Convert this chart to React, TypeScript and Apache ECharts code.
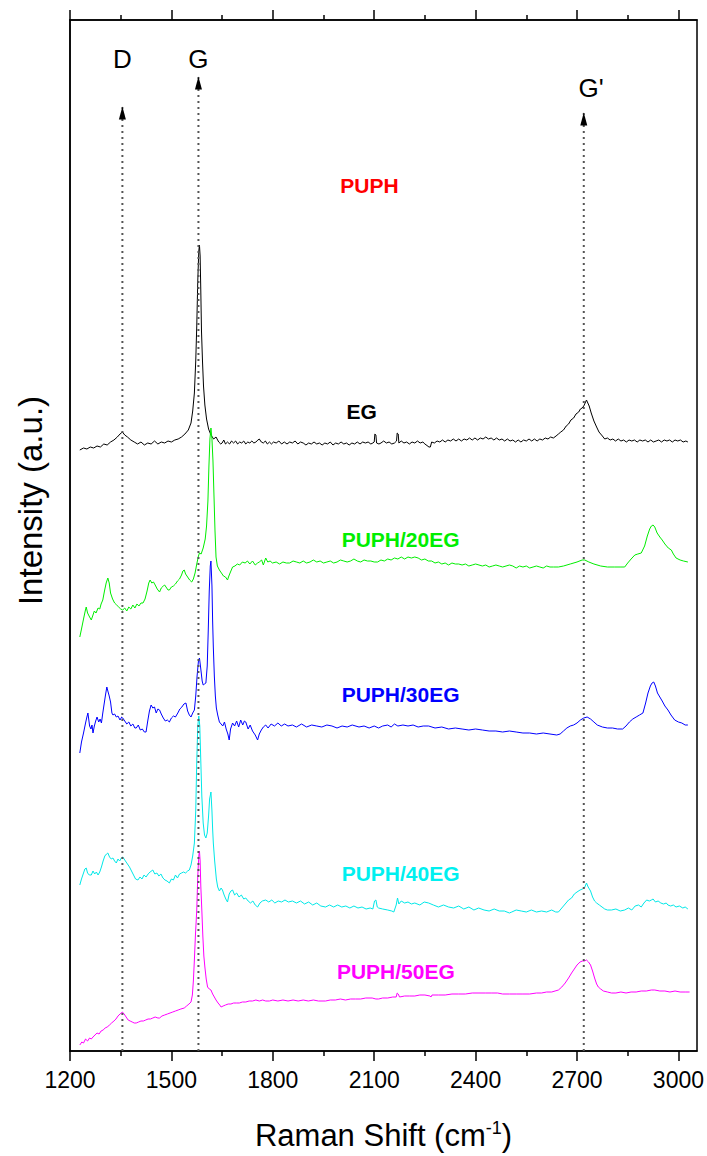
import React, { useEffect, useRef } from "react";
import * as echarts from "echarts";

// ---- Data (x: Raman shift cm^-1, y: stacked intensity, arbitrary units) ----
const majorTicks = [1200, 1500, 1800, 2100, 2400, 2700, 3000];
const minorTicks = [1350, 1650, 1950, 2250, 2550, 2850];

const egData: number[][] = [[1229,601],[1240,603],[1250,602],[1260,604],[1270,603],[1280,605],[1290,604],[1300,607],[1310,606],[1320,609],[1330,611],[1340,614],[1348,617],[1355,619],[1362,616],[1370,614],[1380,611],[1390,609],[1400,607],[1410,609],[1420,606],[1430,608],[1440,607],[1450,610],[1460,607],[1470,609],[1480,608],[1490,610],[1500,609],[1510,611],[1520,612],[1530,614],[1540,617],[1550,621],[1558,628],[1563,640],[1568,658],[1572,690],[1575,725],[1578,770],[1581,800],[1583,806],[1585,795],[1587,760],[1589,720],[1592,690],[1595,665],[1599,646],[1604,632],[1610,622],[1617,616],[1625,612],[1632,614],[1640,609],[1646,607],[1650,608],[1655,611],[1660,607],[1666,609],[1672,607],[1678,610],[1684,608],[1690,610],[1696,607],[1702,609],[1708,608],[1714,610],[1720,607],[1726,609],[1732,608],[1738,610],[1744,608],[1750,609],[1756,611],[1760,612],[1766,609],[1772,608],[1778,610],[1784,607],[1790,609],[1796,607],[1802,609],[1810,608],[1818,610],[1826,607],[1834,609],[1842,607],[1850,609],[1858,608],[1866,610],[1874,607],[1882,609],[1890,608],[1898,606],[1906,608],[1914,607],[1922,609],[1930,607],[1938,608],[1946,606],[1954,608],[1962,607],[1970,609],[1978,606],[1986,608],[1994,607],[2002,609],[2010,607],[2018,608],[2026,606],[2034,608],[2042,607],[2050,609],[2058,607],[2066,609],[2074,608],[2082,609],[2090,607],[2096,608],[2100,609],[2102,617],[2105,616],[2107,608],[2114,607],[2120,608],[2128,610],[2136,608],[2144,609],[2152,607],[2160,608],[2166,610],[2168,618],[2171,617],[2173,608],[2180,610],[2188,608],[2196,609],[2204,607],[2212,609],[2220,608],[2228,610],[2236,608],[2244,609],[2250,607],[2262,604],[2266,604],[2270,609],[2278,608],[2286,610],[2294,609],[2302,611],[2310,609],[2318,611],[2326,610],[2334,612],[2342,610],[2350,612],[2358,610],[2366,612],[2374,611],[2382,613],[2390,611],[2398,613],[2406,611],[2414,613],[2422,612],[2430,614],[2438,612],[2446,613],[2454,611],[2462,613],[2470,611],[2478,612],[2486,610],[2494,612],[2502,610],[2510,611],[2518,609],[2526,611],[2534,609],[2542,611],[2550,610],[2558,612],[2566,610],[2574,612],[2582,610],[2590,612],[2598,611],[2606,613],[2614,612],[2622,614],[2630,613],[2638,615],[2645,617],[2652,619],[2660,621],[2668,625],[2675,627],[2682,631],[2690,633],[2697,637],[2705,639],[2710,642],[2715,643],[2720,645],[2724,648],[2728,651],[2732,648],[2736,645],[2742,638],[2750,630],[2758,624],[2765,619],[2770,617],[2775,615],[2782,612],[2790,613],[2798,611],[2806,612],[2814,610],[2822,612],[2830,610],[2838,611],[2846,609],[2854,611],[2862,610],[2870,611],[2878,609],[2886,611],[2894,610],[2902,611],[2910,609],[2918,611],[2926,609],[2934,610],[2942,611],[2950,609],[2958,611],[2966,610],[2974,611],[2982,609],[2990,611],[2998,610],[3006,611],[3014,609],[3022,610],[3028,609]];

const eg20Data: number[][] = [[1229,414],[1234,422],[1240,432],[1245,440],[1248,444],[1252,438],[1258,434],[1263,431],[1268,436],[1272,440],[1277,438],[1283,443],[1288,442],[1292,447],[1297,451],[1302,460],[1307,468],[1312,473],[1316,468],[1320,458],[1326,452],[1332,448],[1338,446],[1344,444],[1350,442],[1356,441],[1362,443],[1368,440],[1374,444],[1380,442],[1386,446],[1392,443],[1398,447],[1404,445],[1410,448],[1416,448],[1422,452],[1428,460],[1433,468],[1437,471],[1442,468],[1447,469],[1452,466],[1458,462],[1465,459],[1470,463],[1476,465],[1480,466],[1486,463],[1490,461],[1494,461],[1500,464],[1506,465],[1512,467],[1518,470],[1524,472],[1530,476],[1534,480],[1538,481],[1542,477],[1548,474],[1554,471],[1560,469],[1565,472],[1570,478],[1575,487],[1580,495],[1583,498],[1588,497],[1594,503],[1600,512],[1604,525],[1608,550],[1611,585],[1614,612],[1617,623],[1620,612],[1623,590],[1626,555],[1629,520],[1632,494],[1636,485],[1642,481],[1648,478],[1654,475],[1660,474],[1666,471],[1670,475],[1676,480],[1681,484],[1688,485],[1695,487],[1702,486],[1710,489],[1718,488],[1725,490],[1732,487],[1740,490],[1748,486],[1755,488],[1760,489],[1767,491],[1772,486],[1779,493],[1785,489],[1792,490],[1799,488],[1810,489],[1820,487],[1830,489],[1840,488],[1850,488],[1860,490],[1870,489],[1880,488],[1890,490],[1900,488],[1910,489],[1920,491],[1930,489],[1940,490],[1950,488],[1960,489],[1970,490],[1980,488],[1990,489],[2000,491],[2010,490],[2020,489],[2030,490],[2040,492],[2050,490],[2060,489],[2070,491],[2080,490],[2090,490],[2100,489],[2110,489],[2120,491],[2130,490],[2140,492],[2150,491],[2160,493],[2170,492],[2180,494],[2190,492],[2200,494],[2210,493],[2220,494],[2230,493],[2240,491],[2250,492],[2260,490],[2270,490],[2280,488],[2290,489],[2300,487],[2310,488],[2320,486],[2330,488],[2340,487],[2350,487],[2360,486],[2370,487],[2380,485],[2390,486],[2400,487],[2410,486],[2420,485],[2430,486],[2440,484],[2450,485],[2460,486],[2470,485],[2480,484],[2490,485],[2500,486],[2510,485],[2520,483],[2530,485],[2540,484],[2550,485],[2560,483],[2570,484],[2580,485],[2590,484],[2600,483],[2610,485],[2620,484],[2630,484],[2645,484],[2660,485],[2680,487],[2700,489],[2715,491],[2723,491],[2735,489],[2750,487],[2770,485],[2790,484],[2810,484],[2830,484],[2841,484],[2850,488],[2860,492],[2871,496],[2880,497],[2890,498],[2900,505],[2908,515],[2915,522],[2920,525],[2925,526],[2930,524],[2937,518],[2945,514],[2952,511],[2960,507],[2970,503],[2979,501],[2985,497],[2993,493],[3005,491],[3015,490],[3028,489]];

const eg30Data: number[][] = [[1229,298],[1234,309],[1240,318],[1246,328],[1250,334],[1253,338],[1258,325],[1262,322],[1265,326],[1268,318],[1272,325],[1276,330],[1280,334],[1285,329],[1289,332],[1293,328],[1297,338],[1301,347],[1305,356],[1309,364],[1312,360],[1316,355],[1320,349],[1324,338],[1327,336],[1332,337],[1337,334],[1342,335],[1348,331],[1353,334],[1356,333],[1362,330],[1368,327],[1374,329],[1380,325],[1386,327],[1392,323],[1396,323],[1402,326],[1408,321],[1414,322],[1420,319],[1425,319],[1430,330],[1435,340],[1440,346],[1445,343],[1450,344],[1455,338],[1460,342],[1465,341],[1470,337],[1476,333],[1482,330],[1488,331],[1494,329],[1500,333],[1506,335],[1512,334],[1519,338],[1525,342],[1531,344],[1537,347],[1543,348],[1548,340],[1553,336],[1558,334],[1563,338],[1568,341],[1572,355],[1576,375],[1580,390],[1583,393],[1587,382],[1591,370],[1594,366],[1598,367],[1602,368],[1606,385],[1609,420],[1612,460],[1615,485],[1617,490],[1620,465],[1622,430],[1624,404],[1627,375],[1630,355],[1633,343],[1637,336],[1642,329],[1647,327],[1652,325],[1657,329],[1662,322],[1667,317],[1671,311],[1675,322],[1681,328],[1687,325],[1693,330],[1699,324],[1705,331],[1711,326],[1716,330],[1720,329],[1727,322],[1733,326],[1740,320],[1748,316],[1755,311],[1760,317],[1766,321],[1772,324],[1779,326],[1786,323],[1795,327],[1805,325],[1815,328],[1825,325],[1835,327],[1845,325],[1858,326],[1870,324],[1885,327],[1900,324],[1915,326],[1930,325],[1945,324],[1960,326],[1975,325],[1990,323],[2005,325],[2020,324],[2035,326],[2055,324],[2070,325],[2085,323],[2100,325],[2113,323],[2125,325],[2140,326],[2150,324],[2160,327],[2170,325],[2185,326],[2200,325],[2215,326],[2230,324],[2245,325],[2261,325],[2280,323],[2300,324],[2320,322],[2340,323],[2360,322],[2380,321],[2400,322],[2420,321],[2440,320],[2460,320],[2480,319],[2500,320],[2520,319],[2540,318],[2560,318],[2580,317],[2600,318],[2620,317],[2640,316],[2650,317],[2660,320],[2670,323],[2680,325],[2690,326],[2700,328],[2710,331],[2720,333],[2730,334],[2740,332],[2750,329],[2760,326],[2775,324],[2790,323],[2805,323],[2820,322],[2835,322],[2845,325],[2855,329],[2865,332],[2875,334],[2885,336],[2895,338],[2903,348],[2910,358],[2917,365],[2922,368],[2927,369],[2932,365],[2938,358],[2945,354],[2952,350],[2960,345],[2969,341],[2978,336],[2989,331],[3000,329],[3010,328],[3020,326],[3028,326]];

const eg40Data: number[][] = [[1229,166],[1234,172],[1240,178],[1244,182],[1248,183],[1252,178],[1257,176],[1263,176],[1268,180],[1273,177],[1278,179],[1283,176],[1288,179],[1293,184],[1298,190],[1303,195],[1308,197],[1312,198],[1317,194],[1322,192],[1327,193],[1332,190],[1337,188],[1342,192],[1347,190],[1352,193],[1356,194],[1362,191],[1368,188],[1376,184],[1382,180],[1388,176],[1394,172],[1401,171],[1407,174],[1413,172],[1419,176],[1425,174],[1431,177],[1437,179],[1445,181],[1451,177],[1457,178],[1463,175],[1469,177],[1475,173],[1481,171],[1487,170],[1494,168],[1500,172],[1506,171],[1512,176],[1518,173],[1524,177],[1530,178],[1536,179],[1542,178],[1548,180],[1553,181],[1558,186],[1563,195],[1568,208],[1572,240],[1575,290],[1578,325],[1581,335],[1584,325],[1587,290],[1590,255],[1594,228],[1598,216],[1602,213],[1606,218],[1610,235],[1613,252],[1617,259],[1620,240],[1622,222],[1624,208],[1628,190],[1633,172],[1637,164],[1642,160],[1647,163],[1651,161],[1656,156],[1661,152],[1666,149],[1671,157],[1676,160],[1681,161],[1687,156],[1693,158],[1700,154],[1707,156],[1714,152],[1720,153],[1727,150],[1734,148],[1741,150],[1748,146],[1755,144],[1762,148],[1769,150],[1779,151],[1788,149],[1797,151],[1806,148],[1816,150],[1826,149],[1836,151],[1846,149],[1858,150],[1870,148],[1882,150],[1894,147],[1906,149],[1918,146],[1930,148],[1942,145],[1956,144],[1968,146],[1980,144],[1992,146],[2004,144],[2016,145],[2028,143],[2040,145],[2052,143],[2064,144],[2076,142],[2088,143],[2096,142],[2101,150],[2105,151],[2109,144],[2113,143],[2125,142],[2140,141],[2152,140],[2158,139],[2165,146],[2169,153],[2173,147],[2180,150],[2190,148],[2200,149],[2210,147],[2220,148],[2235,146],[2248,149],[2261,148],[2275,146],[2290,144],[2305,146],[2320,144],[2335,143],[2350,145],[2365,142],[2380,144],[2395,141],[2409,143],[2425,141],[2440,140],[2455,142],[2470,140],[2485,140],[2500,138],[2507,139],[2520,141],[2535,140],[2550,139],[2565,141],[2580,139],[2595,140],[2610,139],[2625,141],[2637,139],[2645,139],[2655,143],[2665,147],[2675,151],[2684,153],[2692,157],[2700,159],[2709,161],[2716,162],[2722,163],[2728,168],[2733,164],[2740,160],[2746,154],[2752,150],[2758,148],[2766,146],[2774,144],[2782,142],[2790,141],[2802,141],[2815,142],[2828,140],[2841,141],[2852,143],[2862,141],[2872,145],[2882,146],[2890,144],[2898,148],[2906,151],[2914,150],[2920,151],[2925,152],[2932,149],[2940,150],[2948,148],[2956,147],[2964,148],[2969,146],[2977,145],[2985,146],[2993,144],[3003,145],[3013,143],[3020,144],[3028,142]];

const eg50Data: number[][] = [[1229,6],[1235,9],[1240,8],[1246,12],[1252,10],[1258,13],[1263,12],[1268,14],[1274,16],[1280,18],[1286,17],[1292,20],[1298,21],[1304,23],[1310,24],[1317,26],[1323,28],[1330,30],[1336,32],[1342,35],[1348,37],[1355,39],[1360,37],[1366,34],[1372,31],[1378,30],[1384,29],[1390,28],[1396,28],[1403,29],[1410,30],[1417,30],[1424,31],[1431,32],[1438,32],[1445,33],[1452,34],[1460,33],[1465,33],[1472,35],[1480,36],[1488,37],[1496,38],[1504,39],[1512,40],[1520,41],[1528,42],[1538,43],[1545,45],[1552,47],[1558,49],[1562,56],[1565,70],[1568,91],[1571,115],[1575,141],[1578,175],[1581,195],[1583,200],[1585,190],[1587,165],[1590,141],[1593,115],[1596,95],[1599,84],[1603,72],[1607,64],[1612,62],[1617,61],[1622,57],[1627,54],[1632,51],[1638,48],[1643,46],[1647,44],[1653,45],[1660,46],[1668,47],[1676,47],[1684,48],[1692,48],[1701,48],[1710,49],[1720,49],[1730,50],[1740,50],[1750,51],[1760,50],[1770,51],[1779,50],[1790,50],[1800,51],[1815,50],[1830,51],[1845,50],[1860,51],[1875,50],[1890,51],[1905,50],[1920,51],[1935,50],[1956,50],[1970,51],[1985,51],[2000,52],[2015,51],[2030,52],[2045,52],[2060,52],[2075,53],[2094,53],[2105,52],[2113,52],[2125,53],[2140,53],[2155,54],[2165,54],[2168,58],[2171,57],[2175,54],[2190,55],[2205,55],[2220,55],[2235,56],[2250,56],[2265,55],[2268,54],[2271,56],[2290,56],[2310,56],[2330,57],[2350,57],[2370,57],[2390,58],[2410,58],[2430,58],[2448,58],[2465,58],[2480,57],[2500,57],[2520,57],[2540,57],[2560,57],[2580,58],[2595,58],[2610,59],[2625,59],[2635,60],[2645,61],[2655,64],[2665,68],[2675,73],[2684,78],[2692,82],[2700,86],[2709,89],[2716,90],[2722,90],[2728,91],[2734,89],[2740,86],[2746,80],[2752,73],[2758,67],[2763,64],[2770,62],[2778,60],[2790,59],[2802,58],[2815,58],[2830,59],[2845,58],[2860,59],[2875,59],[2890,60],[2905,60],[2920,61],[2930,61],[2945,60],[2960,60],[2975,59],[2990,60],[3005,59],[3020,59],[3033,59]];

const seriesNames = ["EG", "PUPH/20EG", "PUPH/30EG", "PUPH/40EG", "PUPH/50EG"];
const seriesColors = ["#000000", "#00ee00", "#0000ff", "#00e8e8", "#ff00ff"];
const seriesData = [egData, eg20Data, eg30Data, eg40Data, eg50Data];

// Peak markers (D, G, G')
const peakNames = ["D", "G", "G'"];
const peakX = [1355, 1580, 2720];
const peakArrowTop = [944, 974, 938];
const peakLabelX = [1355, 1580, 2742];
const peakLabelY = [992, 992, 963];

// Sample labels
const sampleLabels = ["PUPH", "EG", "PUPH/20EG", "PUPH/30EG", "PUPH/40EG", "PUPH/50EG"];
const sampleLabelX = [2086, 2063, 2178, 2178, 2178, 2164];
const sampleLabelY = [866, 640, 512, 357, 178, 80];
const sampleLabelColors = ["#ff0000", "#000000", "#00ee00", "#0000ff", "#00f0f0", "#ff00ff"];

const X_MIN = 1200;
const X_MAX = 3055;
const Y_MAX = 1031;

const FONT = "'Liberation Sans', Arial, sans-serif";

export default function App() {
  const ref = useRef<HTMLDivElement>(null);

  useEffect(() => {
    if (!ref.current) return;
    const chart = echarts.init(ref.current, undefined, { renderer: "svg" });

    const baseX = {
      type: "value",
      min: X_MIN,
      max: X_MAX,
      splitLine: { show: false },
    };

    const series: any[] = [];
    seriesData.forEach((d, i) => {
      series.push({
        type: "line",
        name: seriesNames[i],
        data: d,
        showSymbol: false,
        symbol: "none",
        lineStyle: { color: seriesColors[i], width: 1 },
        z: 2,
      });
    });

    peakX.forEach((x, i) => {
      series.push({
        type: "line",
        data: [[x, 0], [x, peakArrowTop[i]]],
        showSymbol: false,
        symbol: "none",
        lineStyle: { color: "#555555", width: 2, type: [2, 4] },
        z: 3,
      });
    });

    series.push({
      type: "scatter",
      data: peakX.map((x, i) => [x, peakArrowTop[i]]),
      symbol: "triangle",
      symbolSize: [7, 13],
      symbolOffset: [0, 6],
      itemStyle: { color: "#000000", opacity: 1 },
      z: 4,
    });

    series.push({
      type: "scatter",
      data: peakLabelX.map((x, i) => ({ value: [x, peakLabelY[i]], name: peakNames[i] })),
      symbolSize: 0,
      itemStyle: { opacity: 1 },
      label: {
        show: true,
        position: [0, 0],
        align: "center",
        verticalAlign: "middle",
        formatter: (p: any) => p.name,
        fontFamily: FONT,
        fontSize: 26,
        color: "#000000",
        opacity: 1,
      },
      z: 5,
    });

    series.push({
      type: "scatter",
      data: sampleLabelX.map((x, i) => ({
        value: [x, sampleLabelY[i]],
        name: sampleLabels[i],
        label: { color: sampleLabelColors[i] },
      })),
      symbolSize: 0,
      itemStyle: { opacity: 1 },
      label: {
        show: true,
        position: [0, 0],
        align: "center",
        verticalAlign: "middle",
        formatter: (p: any) => p.name,
        fontFamily: FONT,
        fontSize: 21,
        fontWeight: "bold",
        opacity: 1,
      },
      z: 5,
    });

    chart.setOption({
      animation: false,
      backgroundColor: "#ffffff",
      grid: {
        left: 70,
        right: 8,
        top: 20,
        bottom: 105,
        show: true,
        borderColor: "#000000",
        borderWidth: 1.5,
        backgroundColor: "transparent",
      },
      xAxis: [
        {
          ...baseX,
          position: "bottom",
          axisLine: { show: true, lineStyle: { color: "#000", width: 1.5 } },
          axisTick: { show: true, length: 10, inside: false, customValues: majorTicks, lineStyle: { color: "#000", width: 1.5 } },
          axisLabel: {
            show: true,
            customValues: majorTicks,
            formatter: (v: number) => String(v),
            fontFamily: FONT,
            fontSize: 23,
            color: "#000",
            margin: 17,
          },
          name: "Raman Shift (cm{sup|-1})",
          nameLocation: "middle",
          nameGap: 68,
          nameTextStyle: {
            fontFamily: FONT,
            fontSize: 31,
            color: "#000",
            rich: {
              sup: { fontFamily: FONT, fontSize: 18, color: "#000", verticalAlign: "top", padding: [0, 0, 14, 0] },
            },
          },
        },
        {
          ...baseX,
          position: "bottom",
          axisLine: { show: false },
          axisTick: { show: true, length: 5, inside: false, customValues: minorTicks, lineStyle: { color: "#000", width: 1.5 } },
          axisLabel: { show: false },
        },
        {
          ...baseX,
          position: "top",
          axisLine: { show: true, lineStyle: { color: "#000", width: 1.5 } },
          axisTick: { show: true, length: 10, inside: false, customValues: majorTicks, lineStyle: { color: "#000", width: 1.5 } },
          axisLabel: { show: false },
        },
        {
          ...baseX,
          position: "top",
          axisLine: { show: false },
          axisTick: { show: true, length: 5, inside: false, customValues: minorTicks, lineStyle: { color: "#000", width: 1.5 } },
          axisLabel: { show: false },
        },
      ],
      yAxis: {
        type: "value",
        min: 0,
        max: Y_MAX,
        axisLine: { show: true, lineStyle: { color: "#000", width: 1.5 } },
        axisTick: { show: false },
        axisLabel: { show: false },
        splitLine: { show: false },
        name: "Intensity (a.u.)",
        nameLocation: "middle",
        nameGap: 23,
        nameTextStyle: { fontFamily: FONT, fontSize: 33, color: "#000", padding: [0, 0, 0, 70] },
      },
      series,
    });

    return () => chart.dispose();
  }, []);

  return (
    <div
      ref={ref}
      style={{ position: "absolute", left: 0, top: 0, width: 707, height: 1156, background: "#fff" }}
    />
  );
}
